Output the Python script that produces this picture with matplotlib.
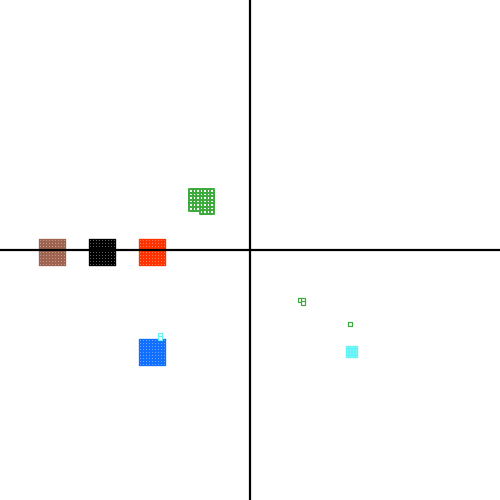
import matplotlib
matplotlib.use("Agg")
import matplotlib.pyplot as plt

# cluster grids: column x-values and row y-values (data units)
red_cols = [-4.40, -4.28, -4.16, -4.04, -3.92, -3.80, -3.68, -3.56, -3.44]
black_cols = [-6.40, -6.28, -6.16, -6.04, -5.92, -5.80, -5.68, -5.56, -5.44]
brown_cols = [-8.40, -8.28, -8.16, -8.04, -7.92, -7.80, -7.68, -7.56, -7.44]
mid_rows = [0.40, 0.28, 0.16, 0.04, -0.08, -0.20, -0.32, -0.44, -0.56]
blue_cols = [-4.40, -4.28, -4.16, -4.04, -3.92, -3.80, -3.68, -3.56, -3.44]
blue_rows = [-3.60, -3.72, -3.84, -3.96, -4.08, -4.20, -4.32, -4.44, -4.56]
cyan_cols = [3.88, 4.00, 4.12, 4.24]
cyan_rows = [-3.88, -4.00, -4.12, -4.24]
green_cols = [-2.36, -2.22, -2.08, -1.94, -1.80, -1.66, -1.52]
green_rows = [2.36, 2.22, 2.08, 1.94, 1.80, 1.66]
green_last_row = 1.52
green_last_cols = [-1.94, -1.80, -1.66, -1.52]

# scattered single points
green_pts_x = [1.98, 2.10, 2.10, 4.01]
green_pts_y = [-1.98, -1.98, -2.10, -2.97]
cyan_pts_x = [-3.62, -3.62]
cyan_pts_y = [-3.38, -3.52]

colors = {
    "red": "#ff3300",
    "black": "#000000",
    "brown": "#9e6450",
    "blue": "#1170ff",
    "cyan": "#62f4f4",
    "green": "#3cab3c",
}


def grid(cols, rows):
    xs = [x for y in rows for x in cols]
    ys = [y for y in rows for x in cols]
    return xs, ys


fig = plt.figure(figsize=(5, 5), dpi=100)
ax = fig.add_axes([0, 0, 1, 1])
ax.set_xlim(-10, 10)
ax.set_ylim(-10, 10)

S = 4.6
LW = 1.0


def draw(xs, ys, c, size=S, lw=LW):
    ax.scatter(xs, ys, marker="s", s=size, facecolors="white",
               edgecolors=c, linewidths=lw, zorder=3)


for cols, rows, key in [
    (brown_cols, mid_rows, "brown"),
    (black_cols, mid_rows, "black"),
    (red_cols, mid_rows, "red"),
    (blue_cols, blue_rows, "blue"),
    (cyan_cols, cyan_rows, "cyan"),
]:
    xs, ys = grid(cols, rows)
    draw(xs, ys, colors[key])

gx, gy = grid(green_cols, green_rows)
gx += green_last_cols
gy += [green_last_row] * len(green_last_cols)
draw(gx, gy, colors["green"], size=5.5, lw=1.4)

draw(green_pts_x, green_pts_y, colors["green"], size=5.5, lw=0.85)
draw(cyan_pts_x, cyan_pts_y, colors["cyan"], size=5.5, lw=0.85)

for side in ["left", "bottom"]:
    ax.spines[side].set_position("zero")
    ax.spines[side].set_linewidth(1.6)
    ax.spines[side].set_zorder(4)
for side in ["right", "top"]:
    ax.spines[side].set_visible(False)
ax.set_xticks([])
ax.set_yticks([])

fig.savefig("out.png", dpi=100)
